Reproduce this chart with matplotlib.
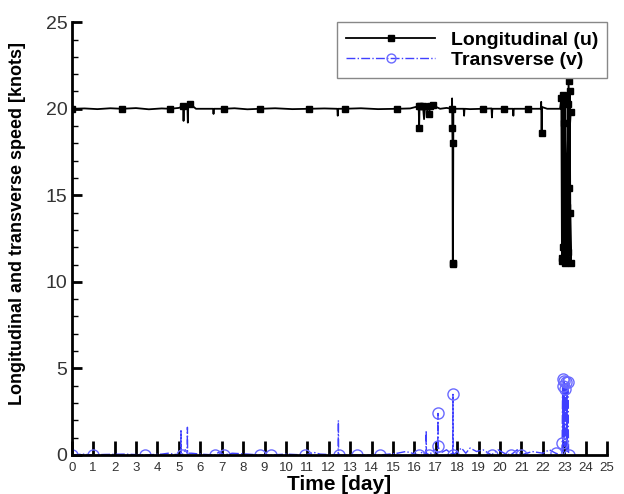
import numpy as np
import matplotlib
matplotlib.use("Agg")
import matplotlib.pyplot as plt
from matplotlib.ticker import MultipleLocator

plt.rcParams['font.family'] = ['Liberation Sans', 'DejaVu Sans']

# Longitudinal speed u [knots] vs time [day], u_mark = 1 where a marker is drawn
t_u = [0.0, 0.6, 1.2, 1.8, 2.35, 3.0, 3.6, 4.2, 4.6, 5.0,
       5.2, 5.22, 5.24, 5.4, 5.42, 5.44, 5.5, 5.8, 6.6, 6.62,
       6.64, 7.1, 7.6, 8.2, 8.8, 9.5, 10.3, 11.1, 11.8, 12.4,
       12.42, 12.44, 12.75, 13.5, 14.3, 15.2, 15.8, 16.2, 16.22, 16.24,
       16.4, 16.45, 16.5, 16.7, 16.72, 16.85, 17.2, 17.5, 17.75, 17.76,
       17.77, 17.78, 17.79, 17.8, 17.82, 18.3, 18.32, 18.34, 18.6, 19.2,
       19.6, 19.62, 19.64, 20.2, 20.6, 20.62, 20.64, 21.3, 21.9, 21.92,
       21.94, 21.96, 22.2, 22.5, 22.8, 22.86, 22.89, 22.92, 22.95, 22.98,
       23.01, 23.04, 23.07, 23.1, 23.13, 23.16, 23.19, 23.22, 23.25, 23.28,
       23.3, 23.2, 23.1, 23.0, 22.9, 23.3]
u = [20.0, 20.02, 19.98, 20.03, 20.0, 20.04, 19.97, 20.02, 20.0, 20.05,
     20.15, 19.3, 20.1, 20.2, 19.2, 20.2, 20.3, 20.0, 20.0, 19.7,
     20.0, 20.0, 20.03, 19.97, 20.0, 20.03, 19.98, 20.0, 20.02, 20.0,
     19.6, 20.0, 20.0, 20.03, 19.98, 20.0, 20.02, 20.15, 18.9, 20.15,
     20.15, 19.4, 20.1, 19.7, 20.15, 20.2, 20.0, 20.05, 20.0, 20.6,
     18.9, 18.0, 11.1, 11.05, 20.0, 20.0, 19.6, 20.0, 19.98, 20.0,
     20.02, 19.5, 20.0, 20.0, 20.0, 19.6, 20.0, 20.0, 20.0, 20.4,
     18.6, 20.1, 20.0, 20.0, 20.0, 20.6, 11.2, 20.8, 12.0, 19.2,
     11.1, 20.5, 13.0, 17.3, 14.3, 20.3, 11.7, 15.4, 21.0, 14.0,
     11.1, 21.6, 11.3, 20.7, 11.4, 19.8]
u_mark = [1, 0, 0, 0, 1, 0, 0, 0, 1, 0,
          1, 0, 0, 0, 0, 0, 1, 0, 0, 0,
          0, 1, 0, 0, 1, 0, 0, 1, 0, 0,
          0, 0, 1, 0, 0, 1, 0, 1, 1, 1,
          1, 0, 0, 1, 1, 1, 0, 0, 1, 0,
          1, 1, 1, 1, 0, 0, 0, 0, 0, 1,
          0, 0, 0, 1, 0, 0, 0, 1, 0, 0,
          1, 0, 0, 0, 0, 1, 1, 1, 1, 1,
          1, 1, 1, 1, 1, 1, 1, 1, 1, 1,
          1, 1, 1, 1, 1, 1]

# Transverse speed v [knots] vs time [day]
t_v = [0.0, 0.5, 1.0, 1.5, 2.5, 3.4, 4.2, 4.5, 5.0, 5.09,
       5.1, 5.11, 5.15, 5.3, 5.39, 5.4, 5.41, 5.6, 6.0, 6.7,
       6.9, 7.1, 7.5, 8.2, 8.8, 9.3, 10.0, 10.9, 11.3, 11.6,
       12.44, 12.45, 12.46, 12.5, 13.3, 14.4, 15.2, 15.6, 16.2, 16.4,
       16.54, 16.55, 16.56, 16.7, 16.9, 17.09, 17.1, 17.11, 17.2, 17.5,
       17.79, 17.8, 17.81, 18.2, 18.4, 18.6, 18.9, 19.2, 19.6, 19.9,
       20.2, 20.5, 20.8, 21.0, 21.5, 22.0, 22.3, 22.6, 22.88, 22.9,
       22.92, 22.94, 22.96, 22.98, 23.0, 23.02, 23.04, 23.06, 23.08, 23.1,
       23.12, 23.14, 23.16, 23.2]
v = [0.0, 0.05, 0.0, 0.03, 0.05, 0.0, 0.05, 0.1, 0.0, 0.0,
     1.4, 0.1, 0.0, 0.3, 0.1, 1.6, 0.1, 0.1, 0.05, 0.0,
     0.2, 0.0, 0.1, 0.05, 0.0, 0.0, 0.05, 0.0, 0.15, 0.05,
     0.0, 2.0, 0.1, 0.0, 0.0, 0.0, 0.1, 0.2, 0.0, 0.2,
     0.0, 1.4, 0.1, 0.0, 0.3, 0.1, 2.4, 0.5, 0.1, 0.3,
     0.0, 3.5, 0.0, 0.4, 0.1, 0.4, 0.2, 0.3, 0.0, 0.3,
     0.1, 0.0, 0.3, 0.0, 0.2, 0.1, 0.3, 0.1, 0.0, 0.7,
     4.0, 0.2, 4.4, 1.0, 4.3, 0.5, 3.8, 2.0, 4.2, 0.3,
     3.9, 0.2, 4.2, 0.0]
v_mark = [1, 0, 1, 0, 0, 1, 0, 0, 0, 0,
          0, 0, 1, 0, 0, 0, 0, 0, 0, 1,
          0, 1, 0, 0, 1, 1, 0, 1, 0, 0,
          0, 0, 0, 1, 1, 1, 0, 0, 1, 0,
          0, 0, 0, 1, 0, 0, 1, 1, 0, 0,
          0, 1, 1, 0, 0, 0, 0, 0, 1, 0,
          0, 1, 0, 1, 0, 0, 0, 1, 0, 1,
          1, 0, 1, 0, 1, 0, 1, 0, 1, 0,
          0, 0, 1, 1]

fig = plt.figure(figsize=(6.24, 4.94), dpi=100)
ax = fig.add_axes([0.115, 0.079, 0.858, 0.876])

ax.plot(t_u, u, color='black', lw=1.3, marker='s', ms=5,
        markevery=[bool(m) for m in u_mark], label='Longitudinal (u)')
ax.plot(t_v, v, color='#4040ff', lw=1.0, ls='-.', marker='o', ms=8,
        mfc='none', mec='#6a6aff', mew=1.0,
        markevery=[bool(m) for m in v_mark], label='Transverse (v)')

ax.set_xlim(0, 25)
ax.set_ylim(0, 25)
ax.xaxis.set_major_locator(MultipleLocator(1))
ax.yaxis.set_major_locator(MultipleLocator(5))
ax.yaxis.set_minor_locator(MultipleLocator(1))
ax.spines['top'].set_visible(False)
ax.spines['right'].set_visible(False)
ax.spines['left'].set_linewidth(2)
ax.spines['bottom'].set_linewidth(2)
ax.tick_params(axis='x', direction='in', length=10, width=2, labelsize=9.5,
               labelcolor='#333333', pad=5)
ax.tick_params(axis='y', which='major', direction='in', length=7, width=2,
               labelsize=14, labelcolor='#333333', pad=3)
ax.tick_params(axis='y', which='minor', direction='in', length=4, width=1)

ax.set_xlabel('Time [day]', fontsize=15, fontweight='bold', labelpad=1)
ax.set_ylabel('Longitudinal and transverse speed [knots]', fontsize=13,
              fontweight='bold')
ax.yaxis.set_label_coords(-0.085, 0.535)

leg = ax.legend(loc='upper right', bbox_to_anchor=(1.0, 1.0), fancybox=False,
                edgecolor='#888888', handlelength=4.6, handletextpad=0.8,
                borderaxespad=0, labelspacing=0.15, borderpad=0.45,
                markerscale=0.8,
                prop={'weight': 'bold', 'size': 14}, framealpha=1)
leg.get_frame().set_linewidth(1.0)

fig.savefig('out.png', dpi=100)
